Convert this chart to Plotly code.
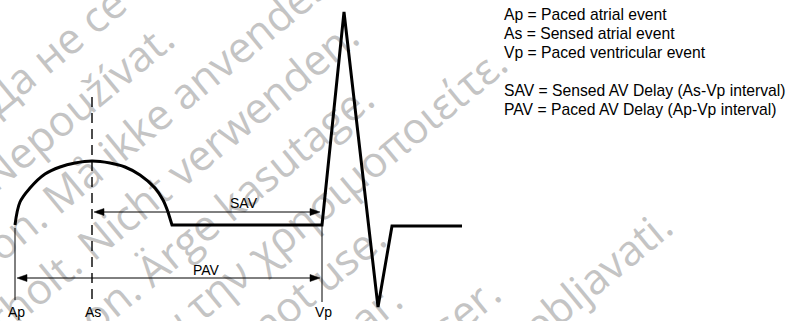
import math
import plotly.graph_objects as go

# ---------------- data ----------------
event_labels = ["Ap", "As", "Vp"]
event_x = [15, 92, 322]
event_top = [228, 97, 226]
event_bottom = [300, 300, 302]
event_dash = ["solid", "dash", "solid"]

# P wave (rounded atrial deflection)
pwave_x = [15, 20, 30, 45, 60, 75, 92, 110, 125, 140, 155, 163, 168]
pwave_y = [225, 202, 188, 174, 167, 163, 161, 163, 167, 175, 188, 200, 212]

# baseline + ventricular complex
qrs_x = [168, 172, 322, 344, 378, 392, 462]
qrs_y = [212, 225, 225, 12, 307, 226, 226]

interval_names = ["SAV", "PAV"]
interval_from = ["As", "Ap"]
interval_to = ["Vp", "Vp"]
interval_y = [212, 278]

legend_lines = [
    "Ap = Paced atrial event",
    "As = Sensed atrial event",
    "Vp = Paced ventricular event",
    "",
    "SAV = Sensed AV Delay (As-Vp interval)",
    "PAV = Paced AV Delay (Ap-Vp interval)",
]

watermark_lines = [
    "Остаряла версия. Да не се използва.",
    "Zastaralá verze. Nepoužívat.",
    "Forældet version. Må ikke anvendes.",
    "Version überholt. Nicht verwenden.",
    "Aegunud versioon. Ärge kasutage.",
    "Παλιά έκδοση. Μην την χρησιμοποιείτε.",
    "Outdated version. Do not use.",
    "Versión obsoleta. No utilizar.",
    "Version obsolète. Ne pas utiliser.",
    "Zastarjela verzija. Nemojte upotrebljavati.",
]

# ---------------- styling / layout constants ----------------
W, H = 791, 321
BLACK = "#000000"
WM_COLOR = "#c4c4c4"
WM_ANGLE = 39.5
WM_SIZE = 42.5
WM_START_U = -448
WM_N0 = 90.8 + 12.5      # baseline offset + descent (label sits on top of its guide line)
WM_STEP = 57.7
LABEL_FONT = dict(family="Liberation Sans, Arial, sans-serif", size=14, color=BLACK)
LEGEND_FONT = dict(family="Liberation Sans, Arial, sans-serif", size=15.7, color=BLACK)

fig = go.Figure()

# waveform
fig.add_trace(go.Scatter(x=pwave_x, y=pwave_y, mode="lines",
                         line=dict(color=BLACK, width=3, shape="spline", smoothing=1.0),
                         hoverinfo="skip"))
fig.add_trace(go.Scatter(x=qrs_x, y=qrs_y, mode="lines",
                         line=dict(color=BLACK, width=3), hoverinfo="skip"))

# event markers
for lab, x, top, bot, dash in zip(event_labels, event_x, event_top, event_bottom, event_dash):
    fig.add_trace(go.Scatter(x=[x, x], y=[top, bot], mode="lines",
                             line=dict(color=BLACK, width=1.4 if dash == "dash" else 1,
                                       dash="10px,6px" if dash == "dash" else "solid"),
                             hoverinfo="skip"))
    fig.add_annotation(x=x + 1, y=312, text=lab, showarrow=False, xref="x", yref="y",
                       xanchor="center", yanchor="middle", font=LABEL_FONT,
                       borderpad=0, borderwidth=0)

# interval arrows
ex = dict(zip(event_labels, event_x))
HEAD_L, HEAD_W, INSET = 10, 3.5, 2
label_pos = {"SAV": (244, 202.5), "PAV": (206, 270)}
for name, a, b, y in zip(interval_names, interval_from, interval_to, interval_y):
    x0, x1 = ex[a] + INSET, ex[b] - INSET
    fig.add_trace(go.Scatter(x=[x0 + HEAD_L - 1, x1 - HEAD_L + 1], y=[y, y], mode="lines",
                             line=dict(color=BLACK, width=1), hoverinfo="skip"))
    for tip, d in ((x0, 1), (x1, -1)):
        fig.add_trace(go.Scatter(x=[tip, tip + d * HEAD_L, tip + d * HEAD_L, tip],
                                 y=[y, y - HEAD_W, y + HEAD_W, y],
                                 mode="lines", fill="toself", fillcolor=BLACK,
                                 line=dict(color=BLACK, width=0.5), hoverinfo="skip"))
    lx, ly = label_pos[name]
    fig.add_annotation(x=lx, y=ly, text=name, showarrow=False, xref="x", yref="y",
                       xanchor="center", yanchor="middle", font=LABEL_FONT,
                       borderpad=0, borderwidth=0)

# legend text block
for i, line in enumerate(legend_lines):
    if not line:
        continue
    fig.add_annotation(x=504, y=14.6 + 19 * i, text=line, showarrow=False,
                       xref="x", yref="y", xanchor="left", yanchor="middle",
                       font=LEGEND_FONT, borderpad=0, borderwidth=0)

# watermark (drawn below the diagram)
th = math.radians(WM_ANGLE)
ux, uy = math.cos(th), -math.sin(th)
nx, ny = math.sin(th), math.cos(th)
for i, txt in enumerate(watermark_lines):
    n = WM_N0 + WM_STEP * i
    bx = WM_START_U * ux + n * nx
    by = WM_START_U * uy + n * ny
    fig.add_shape(type="line", xref="x", yref="y", layer="below",
                  x0=bx, y0=by, x1=bx + 60 * ux, y1=by + 60 * uy,
                  line=dict(color="rgba(0,0,0,0)", width=1),
                  label=dict(text=txt, textposition="start", padding=0,
                             font=dict(family="Open Sans", size=WM_SIZE, color=WM_COLOR)))

fig.update_layout(
    width=W, height=H, margin=dict(l=0, r=0, t=0, b=0, pad=0),
    paper_bgcolor="white", plot_bgcolor="white", showlegend=False,
    xaxis=dict(range=[0, W], visible=False, fixedrange=True),
    yaxis=dict(range=[H, 0], visible=False, fixedrange=True),
)

fig.write_html("out.html", config={"displayModeBar": False},
               post_script="document.body.style.margin='0';document.body.style.overflow='hidden';")
